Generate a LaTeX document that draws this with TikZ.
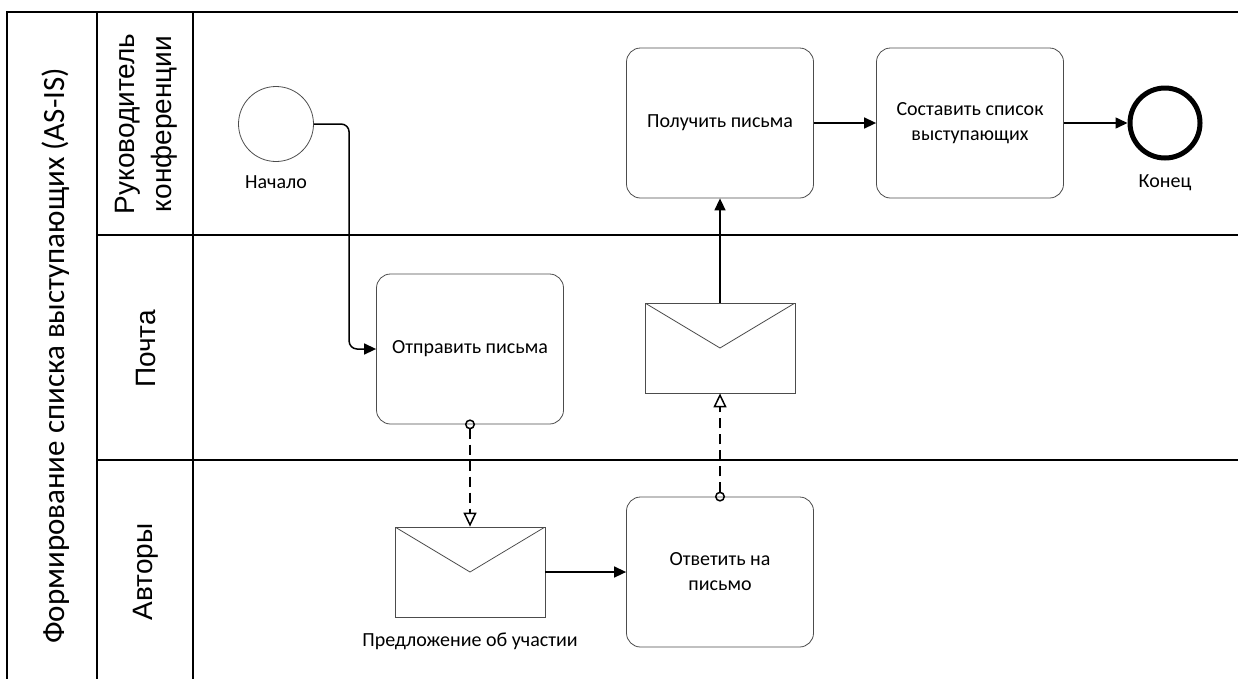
\documentclass[tikz,border=0pt]{standalone}
\usepackage{fontspec}
\setmainfont{Carlito}
\newfontfamily\lanefont{Liberation Sans}
\usetikzlibrary{arrows.meta}
\tikzset{
  poolline/.style={line width=2pt, black},
  task/.style={draw=black!70, line width=0.8pt, rectangle, rounded corners=14pt,
    minimum width=187pt, minimum height=150pt, align=center, font=\fontsize{20}{25}\selectfont},
  envelope/.style={draw=black!70, line width=0.8pt, rectangle, minimum width=150pt, minimum height=90pt,
    path picture={\draw[black!70, line width=0.8pt]
      (path picture bounding box.north west) -- (path picture bounding box.center)
      -- (path picture bounding box.north east);}},
  startev/.style={draw=black!70, line width=0.8pt, circle, minimum size=75pt, inner sep=0pt},
  endev/.style={draw=black, line width=5pt, circle, minimum size=70pt, inner sep=0pt},
  evlabel/.style={font=\fontsize{20}{24}\selectfont},
  flow/.style={line width=1.5pt, -{Triangle[length=12pt,width=11pt]}},
  msg/.style={line width=1.8pt, dash pattern=on 10pt off 6pt,
    {Circle[open,length=10pt,width=10pt,line width=1.5pt]}-{Triangle[open,length=14pt,width=13pt,line width=1.5pt]},
    shorten <=-5pt},
  lanelabel/.style={font=\lanefont\fontsize{28}{37}\selectfont, rotate=90, align=center},
  poollabel/.style={font=\fontsize{31}{34}\selectfont, rotate=90}
}
\begin{document}
\begin{tikzpicture}[x=1pt,y=-1pt]
\useasboundingbox (0,0) rectangle (1238,678);
\begin{scope}
\clip (0,0) rectangle (1238,678);
% pool and lanes
\draw[poolline] (7,690) -- (7,12) -- (1250,12);
\draw[poolline] (97,12) -- (97,690);
\draw[poolline] (193,12) -- (193,690);
\draw[poolline] (97,235) -- (1250,235);
\draw[poolline] (97,460) -- (1250,460);
\end{scope}
\node[poollabel] (pooltitle) at (56,356) {Формирование списка выступающих (AS-IS)};
\node[lanelabel] (lane1) at (146,124) {Руководитель\\конференции};
\node[lanelabel] (lane2) at (146,349) {Почта};
\node[lanelabel] (lane3) at (146,572) {Авторы};

% events
\node[startev] (start) at (276,124) {};
\node[evlabel] (startlbl) at (276,182) {Начало};
\node[endev] (finish) at (1165,123) {};
\node[evlabel] (finishlbl) at (1165,183) {Конец};

% tasks
\node[task] (send) at (470,349) {Отправить письма};
\node[task] (reply) at (720,572) {Ответить на\\письмо};
\node[task] (receive) at (720,123) {Получить письма};
\node[task] (compile) at (970,123) {Составить список\\выступающих};

% messages
\node[envelope] (env1) at (470,572) {};
\node[evlabel] (env1lbl) at (470,641) {Предложение об участии};
\node[envelope] (env2) at (720,348) {};

% sequence flows
\draw[flow, rounded corners=8pt] (start.east) -| ([xshift=-27pt]send.west) -- (send.west);
\draw[flow] (env1.east) -- (reply.west);
\draw[flow] (env2.north) -- (receive.south);
\draw[flow] (receive.east) -- (compile.west);
\draw[flow] (compile.east) -- (finish.west);

% message flows
\draw[msg] (send.south) -- (env1.north);
\draw[msg] (reply.north) -- (env2.south);
\end{tikzpicture}
\end{document}
